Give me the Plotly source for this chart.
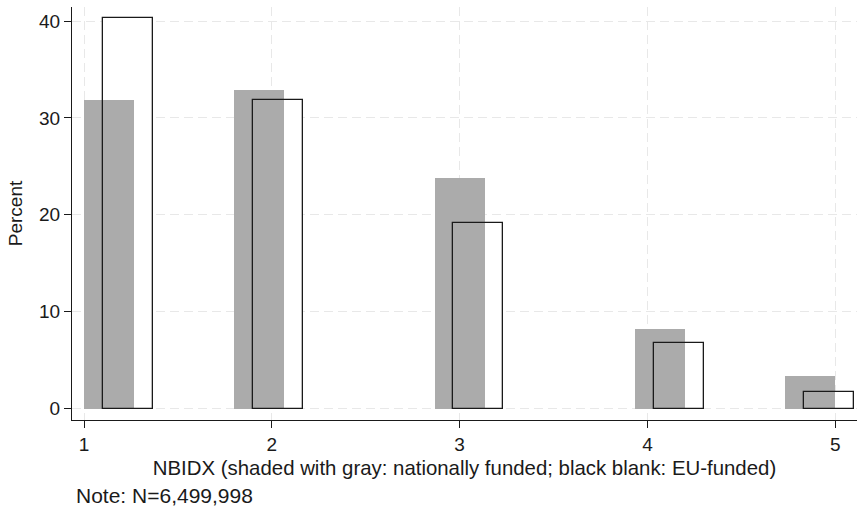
import plotly.graph_objects as go

# Histogram bins (15 bins over NBIDX range 1..5); only non-empty bins shown
bin_start = [1.0, 1.8, 2.8667, 3.9333, 4.7333]
bin_width = 4 / 15
national_pct = [31.85, 32.9, 23.8, 8.2, 3.35]   # gray, nationally funded
eu_pct = [40.3, 31.9, 19.2, 6.8, 1.7]           # black outline, EU-funded
eu_shift = 0.1
x_ticks = [1, 2, 3, 4, 5]
y_ticks = [0, 10, 20, 30, 40]

FONT = "Liberation Sans, Arial, sans-serif"
eu_x = [b + eu_shift for b in bin_start]

fig = go.Figure()
# white fill of EU bars (under gray)
fig.add_trace(go.Bar(x=eu_x, y=eu_pct, width=bin_width, offset=0,
                     marker=dict(color="white", line=dict(width=0)),
                     hoverinfo="skip", showlegend=False))
# gray national bars
fig.add_trace(go.Bar(x=bin_start, y=national_pct, width=bin_width, offset=0,
                     marker=dict(color="#ababab", line=dict(width=0)),
                     name="nationally funded", showlegend=False))
# EU outline on top
fig.add_trace(go.Bar(x=eu_x, y=eu_pct, width=bin_width, offset=0,
                     marker=dict(color="rgba(0,0,0,0)", line=dict(color="#1a1a1a", width=1.3)),
                     name="EU-funded", showlegend=False))

fig.update_layout(
    width=857, height=507,
    barmode="overlay", bargap=0,
    paper_bgcolor="white", plot_bgcolor="white",
    margin=dict(l=72, r=0, t=7, b=86.5, autoexpand=False),
    font=dict(family=FONT, size=19, color="#1a1a1a"),
    xaxis=dict(range=[0.936, 5.116], tickvals=x_ticks, ticktext=[str(v) for v in x_ticks],
               automargin=False,
               showline=True, linecolor="#1a1a1a", linewidth=1.3,
               ticks="outside", ticklen=7, tickwidth=1.3, tickcolor="#1a1a1a",
               tickfont=dict(size=19),
               showgrid=True, gridcolor="#e8e8e8", gridwidth=1.3, griddash="9px,5px",
               zeroline=False,
               title=dict(text="NBIDX (shaded with gray: nationally funded; black blank: EU-funded)",
                          font=dict(size=20.4), standoff=6)),
    yaxis=dict(range=[-1.18, 41.45], tickvals=y_ticks, ticktext=[str(v) for v in y_ticks],
               automargin=False,
               showline=True, linecolor="#1a1a1a", linewidth=1.3,
               ticks="outside", ticklen=7, tickwidth=1.3, tickcolor="#1a1a1a",
               tickfont=dict(size=19),
               showgrid=True, gridcolor="#e8e8e8", gridwidth=1.3, griddash="9px,5px",
               zeroline=False,
               title=dict(text="Percent", font=dict(size=19), standoff=11)),
    annotations=[dict(text="Note: N=6,499,998", xref="paper", yref="paper",
                      x=0, y=0, xanchor="left", yanchor="top", xshift=2, yshift=-62,
                      showarrow=False, font=dict(size=21))],
)

fig.write_html("out.html", config={"displayModeBar": False},
               post_script="document.body.style.margin='0';")
